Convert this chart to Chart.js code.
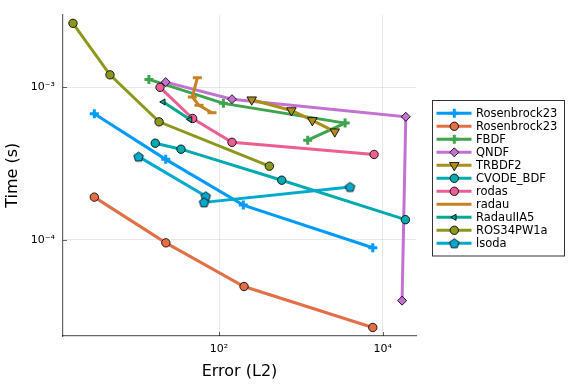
<!DOCTYPE html>
<html><head><meta charset="utf-8">
<script src="https://cdn.jsdelivr.net/npm/chart.js@4.4.0/dist/chart.umd.min.js"></script>
<style>html,body{margin:0;padding:0;background:#fff}#wrap{width:576px;height:384px;position:relative}</style>
</head><body><div id="wrap"><canvas id="c" width="576" height="384"></canvas></div>
<script>
// ---- data (Error (L2), Time (s)) ----
const seriesNames = ["Rosenbrock23","Rosenbrock23","FBDF","QNDF","TRBDF2","CVODE_BDF","rodas","radau","RadauIIA5","ROS34PW1a","lsoda"];
const rosenbrockA_err  = [2.99, 22.3, 198, 7570];
const rosenbrockA_time = [6.70e-4, 3.37e-4, 1.69e-4, 8.87e-5];
const rosenbrockB_err  = [2.99, 22.4, 202, 7570];
const rosenbrockB_time = [1.905e-4, 9.55e-5, 4.94e-5, 2.66e-5];
const fbdf_err   = [13.9, 113, 3470, 1213];
const fbdf_time  = [1.127e-3, 7.85e-4, 5.83e-4, 4.50e-4];
const qndf_err   = [22.3, 144, 19150, 17260];
const qndf_time  = [1.082e-3, 8.36e-4, 6.41e-4, 3.99e-5];
const trbdf2_err = [251, 766, 1382, 2596];
const trbdf2_time= [8.3e-4, 7.05e-4, 6.07e-4, 5.12e-4];
const cvode_err  = [16.6, 34.3, 584, 18950];
const cvode_time = [4.30e-4, 3.93e-4, 2.46e-4, 1.355e-4];
const rodas_err  = [19.0, 47.6, 144, 7850];
const rodas_time = [1.0e-3, 6.25e-4, 4.36e-4, 3.63e-4];
const radau_err  = [54.3, 47.2, 56.9, 82];
const radau_time = [1.155e-3, 8.65e-4, 7.62e-4, 6.81e-4];
const radauIIA5_err  = [20.8, 44.2];
const radauIIA5_time = [8.02e-4, 6.15e-4];
const ros34_err  = [1.64, 4.65, 18.5, 412];
const ros34_time = [2.63e-3, 1.208e-3, 5.94e-4, 3.04e-4];
const lsoda_err  = [10.4, 68.8, 65.6, 3990];
const lsoda_time = [3.51e-4, 1.93e-4, 1.76e-4, 2.22e-4];
const xTickValues = [100, 10000];
const xTickLabels = ["10\u00B2", "10\u2074"];
const yTickValues = [1e-4, 1e-3];
const yTickLabels = ["10\u207B\u2074", "10\u207B\u00B3"];

const allErr  = [rosenbrockA_err, rosenbrockB_err, fbdf_err, qndf_err, trbdf2_err, cvode_err, rodas_err, radau_err, radauIIA5_err, ros34_err, lsoda_err];
const allTime = [rosenbrockA_time, rosenbrockB_time, fbdf_time, qndf_time, trbdf2_time, cvode_time, rodas_time, radau_time, radauIIA5_time, ros34_time, lsoda_time];

const colors = ['#009AFA','#E36F47','#3EA44E','#C371D2','#AC8E18','#00AAAE','#ED5E93','#C68225','#00A98D','#8E971D','#00A9CD'];
const OUT = 'rgba(0,0,0,0.85)';

function pentagon(color){
  const cv = document.createElement('canvas'); cv.width = 13; cv.height = 13;
  const g = cv.getContext('2d'); const r = 5;
  g.beginPath();
  for (let k=0;k<5;k++){ const a = -Math.PI/2 + k*2*Math.PI/5; const px = 6.5 + r*Math.cos(a), py = 6.9 + r*Math.sin(a); k?g.lineTo(px,py):g.moveTo(px,py); }
  g.closePath(); g.fillStyle = color; g.fill(); g.lineWidth = 1; g.strokeStyle = OUT; g.stroke();
  return cv;
}
const markers = [
  {pointStyle:'cross', radius:4.5, rotation:0, bw:3, bc:colors[0]},
  {pointStyle:'circle', radius:4.2, rotation:0, bw:1, bc:OUT},
  {pointStyle:'cross', radius:4.5, rotation:0, bw:3, bc:colors[2]},
  {pointStyle:'rectRot', radius:4.5, rotation:0, bw:1, bc:OUT},
  {pointStyle:'triangle', radius:5.5, rotation:180, bw:1, bc:OUT},
  {pointStyle:'circle', radius:4.2, rotation:0, bw:1, bc:OUT},
  {pointStyle:'circle', radius:4.2, rotation:0, bw:1, bc:OUT},
  {pointStyle:'line', radius:4.5, rotation:0, bw:3, bc:colors[7], legendNone:true},
  {pointStyle:'triangle', radius:3.5, rotation:-90, bw:1, bc:OUT},
  {pointStyle:'circle', radius:4.2, rotation:0, bw:1, bc:OUT},
  {pointStyle:pentagon(colors[10]), radius:5, rotation:0, bw:1, bc:OUT}
];

const N = seriesNames.length;
const datasets = seriesNames.map((name, i) => ({
  label: name,
  data: allErr[i].map((x, j) => ({x: x, y: allTime[i][j]})),
  showLine: true,
  borderColor: colors[i],
  backgroundColor: colors[i],
  borderWidth: 3,
  pointStyle: markers[i].pointStyle,
  pointRadius: markers[i].radius,
  pointRotation: markers[i].rotation,
  pointBackgroundColor: colors[i],
  pointBorderColor: markers[i].bc,
  pointBorderWidth: markers[i].bw,
  pointHoverRadius: markers[i].radius,
  order: N - i,
  tension: 0
}));

const frame = {
  id: 'frame',
  beforeDatasetsDraw(chart){
    const ctx = chart.ctx, xs = chart.scales.x, ys = chart.scales.y, a = chart.chartArea;
    ctx.save(); ctx.strokeStyle = 'rgba(0,0,0,0.6)'; ctx.lineWidth = 1;
    xTickValues.forEach(v => { const px = Math.round(xs.getPixelForValue(v)) + 0.5; ctx.beginPath(); ctx.moveTo(px, a.bottom); ctx.lineTo(px, a.bottom - 4); ctx.stroke(); });
    yTickValues.forEach(v => { const py = Math.round(ys.getPixelForValue(v)) + 0.5; ctx.beginPath(); ctx.moveTo(a.left, py); ctx.lineTo(a.left + 4, py); ctx.stroke(); });
    ctx.restore();
  }
};

const legendBox = {
  id: 'legendBox',
  afterDraw(chart){
    const ctx = chart.ctx;
    const L = 432.5, T = 100.5, W = 132, H = 155.5;
    ctx.save();
    ctx.fillStyle = '#fff'; ctx.fillRect(L, T, W, H);
    ctx.strokeStyle = 'rgba(0,0,0,0.8)'; ctx.lineWidth = 1; ctx.strokeRect(L, T, W, H);
    ctx.font = '11.5px "DejaVu Sans"'; ctx.textBaseline = 'middle'; ctx.textAlign = 'left';
    chart.data.datasets.forEach((ds, i) => {
      const y = 113.3 + 13 * i;
      ctx.strokeStyle = colors[i]; ctx.lineWidth = 3; ctx.lineCap = 'butt';
      ctx.beginPath(); ctx.moveTo(436.5, y); ctx.lineTo(471.5, y); ctx.stroke();
      const m = markers[i];
      if (!m.legendNone) {
        ctx.fillStyle = colors[i]; ctx.strokeStyle = m.bc; ctx.lineWidth = m.bw;
        if (Chart.helpers && Chart.helpers.drawPoint) {
          Chart.helpers.drawPoint(ctx, {pointStyle: m.pointStyle, radius: m.radius, rotation: m.rotation, borderWidth: m.bw}, 454.3, y);
        }
      }
      ctx.fillStyle = '#000';
      ctx.fillText(ds.label, 476, y + 0.5);
    });
    ctx.restore();
  }
};

new Chart(document.getElementById('c'), {
  type: 'scatter',
  data: { datasets },
  options: {
    responsive: false, animation: false, devicePixelRatio: 1,
    layout: { padding: { top: 12, right: 160, left: 0, bottom: 0 } },
    plugins: { legend: { display: false }, tooltip: { enabled: false } },
    scales: {
      x: {
        type: 'logarithmic', position: 'bottom', min: 1.239, max: 25530,
        afterFit(s){ s.height = 48; },
        afterBuildTicks(s){ s.ticks = xTickValues.map(v => ({value: v})); },
        ticks: { autoSkip: false, maxRotation: 0, padding: 7, color: '#000', font: { family: 'DejaVu Sans', size: 11 },
          callback: (v) => { const k = xTickValues.indexOf(v); return k >= 0 ? xTickLabels[k] : ''; } },
        grid: { color: 'rgba(0,0,0,0.09)', lineWidth: 1, drawTicks: false },
        border: { display: true, color: 'rgba(0,0,0,0.6)', width: 1.2 },
        title: { display: true, text: 'Error (L2)', color: '#000', font: { family: 'DejaVu Sans', size: 16 }, padding: { top: 0, bottom: 3 } }
      },
      y: {
        type: 'logarithmic', position: 'left', min: 2.339e-5, max: 3.0e-3,
        afterFit(s){ s.width = 63; },
        afterBuildTicks(s){ s.ticks = yTickValues.map(v => ({value: v})); },
        ticks: { autoSkip: false, padding: 8, color: '#000', font: { family: 'DejaVu Sans', size: 11 },
          callback: (v) => { const k = yTickValues.findIndex(t => Math.abs(t - v) / t < 1e-6); return k >= 0 ? yTickLabels[k] : ''; } },
        grid: { color: 'rgba(0,0,0,0.09)', lineWidth: 1, drawTicks: false },
        border: { display: true, color: 'rgba(0,0,0,0.6)', width: 1.2 },
        title: { display: true, text: 'Time (s)', color: '#000', font: { family: 'DejaVu Sans', size: 16 }, padding: { top: 3, bottom: 0 } }
      }
    }
  },
  plugins: [frame, legendBox]
});
</script>
</body></html>
